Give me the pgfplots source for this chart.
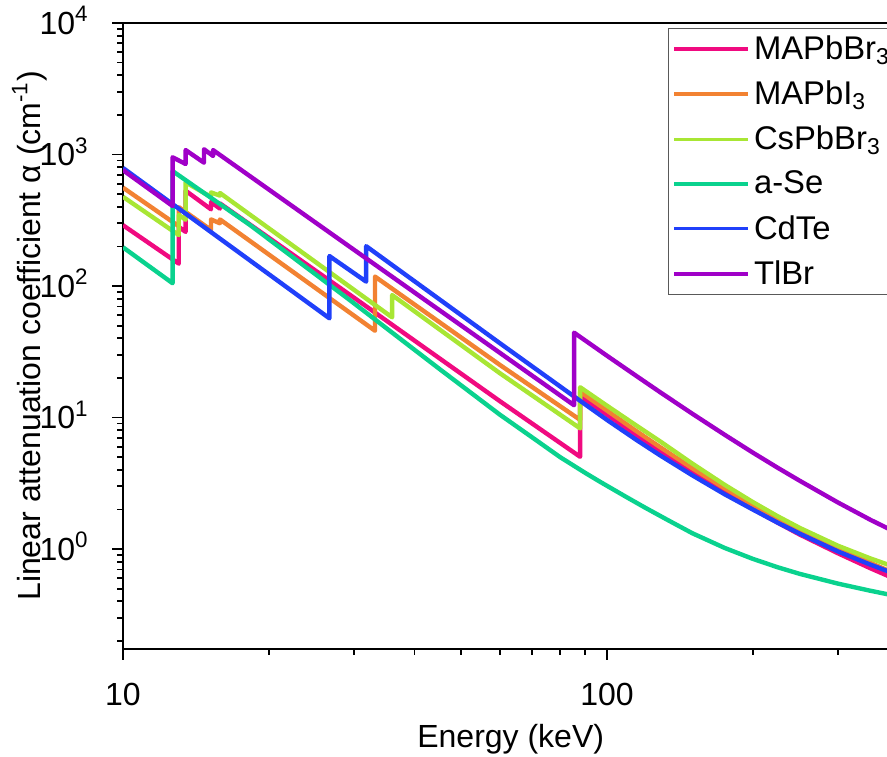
\documentclass[border=0pt]{standalone}
\usepackage{fontspec}
\setmainfont{Liberation Sans}
\usepackage{pgfplots}
\pgfplotsset{compat=1.18}
\definecolor{cPink}{RGB}{240,10,128}
\definecolor{cOrange}{RGB}{242,130,50}
\definecolor{cLime}{RGB}{168,230,52}
\definecolor{cTeal}{RGB}{10,210,142}
\definecolor{cBlue}{RGB}{32,64,250}
\definecolor{cPurple}{RGB}{160,0,200}
\begin{document}
\begin{tikzpicture}
\begin{axis}[
  name=ax,
  scale only axis,
  width=387.7pt, height=312.8pt,
  xmode=log, ymode=log,
  xmin=10, xmax=400, ymin=0.175, ymax=10000,
  xtick={10,100}, xticklabels={10,100},
  minor xtick={20,30,40,50,60,70,80,90,200,300,400},
  ytick={1,10,100,1000,10000},
  yticklabels={10\textsuperscript{0},10\textsuperscript{1},10\textsuperscript{2},10\textsuperscript{3},10\textsuperscript{4}},
  minor ytick={0.2,0.3,0.4,0.5,0.6,0.7,0.8,0.9,2,3,4,5,6,7,8,9,20,30,40,50,60,70,80,90,200,300,400,500,600,700,800,900,2000,3000,4000,5000,6000,7000,8000,9000},
  tick pos=left,
  tick align=outside,
  major tick length=5.5pt,
  minor tick length=3pt,
  every tick/.style={black, line width=0.9pt},
  axis line style={line width=1pt},
  tick label style={font=\fontsize{16}{19}\selectfont},
  xticklabel style={anchor=base, yshift=-23pt, inner sep=0pt},
  yticklabel style={anchor=base east, inner sep=0pt, xshift=-11.5pt, yshift=-5.7pt},
  label style={font=\fontsize{16}{19}\selectfont},
  xlabel={Energy (keV)},
  ylabel={Linear attenuation coefficient α (cm\textsuperscript{-1})},
  xlabel style={at={(axis description cs:0.5,-0.158)}, anchor=base},
  ylabel style={at={(axis description cs:-0.107,0.5)}, anchor=base},
  legend style={at={(0.703,0.992)}, anchor=north west, draw=black!65, line width=0.5pt, fill=white,
    font=\fontsize{16.4}{19}\selectfont, inner xsep=2pt, inner ysep=1.5pt, row sep=5.2pt},
  legend cell align=left,
  legend image code/.code={\draw[#1, line width=1.7pt] (0pt,0pt) -- (37pt,0pt);},
  every axis plot/.append style={line width=2.2pt, line join=round},
]
\addplot[cPink] coordinates {(10,290) (13.04,148) (13.04,282) (13.47,258) (13.47,531) (15.2,383) (15.2,435) (15.86,388) (15.86,425) (30,81.6) (60.1,13.3) (88,5.03) (88,14.6) (100,10.5) (115,7.33) (128.7,5.53) (150,3.83) (175,2.70) (200,2.02) (225,1.59) (250,1.29) (300,0.929) (350,0.715) (400,0.577)};
\addlegendentry{MAPbBr\textsubscript{3}}
\addplot[cOrange] coordinates {(10,560) (13.04,285) (13.04,398) (15.2,267) (15.2,321) (15.86,300) (15.86,321) (33.17,45.7) (33.17,118) (60.1,25.1) (88,9.6) (88,15.7) (100,11.3) (115,7.89) (128.7,5.96) (150,4.12) (175,2.90) (200,2.18) (225,1.72) (250,1.41) (300,1.02) (350,0.787) (400,0.635)};
\addlegendentry{MAPbI\textsubscript{3}}
\addplot[cLime] coordinates {(10,477) (13.04,244) (13.04,347) (13.47,319) (13.47,615) (15.2,475) (15.2,515) (15.86,487) (15.86,510) (35.98,57.8) (35.98,85.4) (60.1,21.7) (88,8.27) (88,17.0) (100,12.3) (115,8.69) (128.7,6.6) (150,4.47) (175,3.08) (200,2.28) (225,1.78) (250,1.45) (300,1.06) (350,0.849) (400,0.714)};
\addlegendentry{CsPbBr\textsubscript{3}}
\addplot[cTeal] coordinates {(10,197) (12.66,105) (12.66,749) (18.3,291) (29.4,78.3) (45,23.5) (60.1,10.5) (70,7.08) (80,5.0) (90,3.81) (96.7,3.25) (110,2.47) (120,2.06) (132.8,1.68) (150,1.32) (175,1.02) (200,0.843) (225,0.728) (250,0.648) (300,0.546) (350,0.482) (400,0.436)};
\addlegendentry{a-Se}
\addplot[cBlue] coordinates {(10,790) (26.7,56.8) (26.7,169) (31.8,108) (31.8,201) (60.1,36.7) (88,13.4) (100,9.59) (115,6.76) (128.7,5.16) (150,3.64) (175,2.61) (200,2.0) (225,1.59) (250,1.31) (300,0.959) (350,0.762) (400,0.632)};
\addlegendentry{CdTe}
\addplot[cPurple] coordinates {(10,760) (12.66,406) (12.66,953) (13.47,847) (13.47,1081) (14.70,867) (14.70,1097) (15.35,975) (15.35,1081) (29.4,199) (85.5,12.4) (85.5,44.2) (100,29.5) (115,20.7) (128.7,15.6) (150,10.7) (175,7.40) (200,5.42) (225,4.16) (250,3.31) (300,2.26) (350,1.67) (400,1.31)};
\addlegendentry{TlBr}
\end{axis}
\pgfresetboundingbox
\path[use as bounding box] ([xshift=-61.5pt,yshift=-54pt]ax.south west) rectangle ([xshift=-5.7pt,yshift=11.5pt]ax.north east);
\end{tikzpicture}
\end{document}
